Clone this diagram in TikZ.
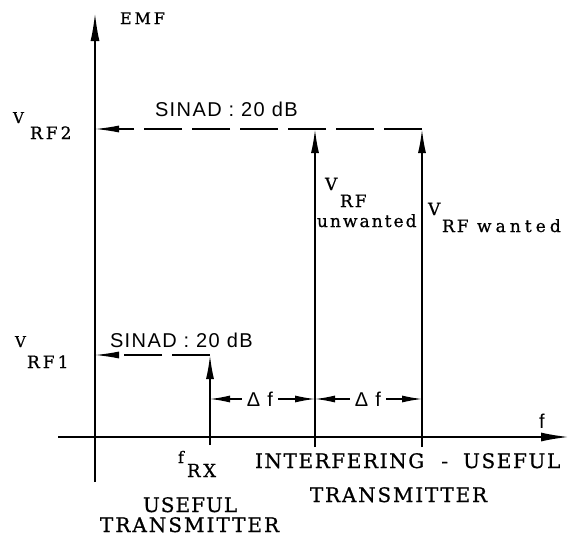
\documentclass[tikz,border=0pt]{standalone}
\usepackage{fontspec}
\setmainfont{DejaVu Serif}[FakeBold=0.8]
\setsansfont{Liberation Sans}
\usetikzlibrary{arrows.meta}
\newcommand{\LSp}[2]{{\addfontfeature{LetterSpace=#1}#2}}
\newcommand{\fsz}[1]{\fontsize{#1}{#1}\selectfont}
\begin{document}
\begin{tikzpicture}[x=1pt,y=-1pt,
  lbl/.style={inner sep=0pt, outer sep=0pt, anchor=base west},
  axisline/.style={line width=1.8pt, -{Latex[length=28pt,width=9pt]}},
  sig/.style={line width=1.6pt, -{Latex[length=24pt,width=8pt]}},
  lvl/.style={line width=1.2pt, dash pattern=on 38pt off 10pt, -{Latex[length=24pt,width=7pt]}},
  dfarr/.style={line width=1.2pt, -{Latex[length=20pt,width=7pt]}},
  sanslbl/.style={inner sep=0pt, outer sep=0pt, anchor=base west, font=\sffamily\fsz{20}}
]
\useasboundingbox (0,0) rectangle (574,538);
% key points
\coordinate (ytop) at (95,13);
\coordinate (ybot) at (95,482);
\coordinate (xl) at (58,437);
\coordinate (xr) at (569,437);
\coordinate (rxb) at (210,445);
\coordinate (rxt) at (210,355);
\coordinate (unb) at (315,447);
\coordinate (unt) at (315,129);
\coordinate (wab) at (422,447);
\coordinate (wat) at (422,129);
\coordinate (y2) at (95,129);
\coordinate (y1) at (95,355);
\coordinate (d1l) at (210,399);
\coordinate (d1r) at (315,399);
\coordinate (d2l) at (315,399);
\coordinate (d2r) at (422,399);
% axes
\draw[axisline] (ybot) -- (ytop);
\draw[axisline] (xl) -- (xr);
% signal lines
\draw[sig] (rxb) -- (rxt);
\draw[sig] (unb) -- (unt);
\draw[sig] (wab) -- (wat);
% SINAD levels
\draw[lvl] (wat) -- (y2);
\draw[lvl] (rxt) -- (y1);
% delta f
\node[font=\sffamily\fsz{20}, inner sep=5pt] (df1) at (260,399) {\LSp{8}{Δ f}};
\node[font=\sffamily\fsz{20}, inner sep=5pt] (df2) at (368,399) {\LSp{8}{Δ f}};
\draw[dfarr] (df1) -- (d1l);
\draw[dfarr] (df1) -- (d1r);
\draw[dfarr] (df2) -- (d2l);
\draw[dfarr] (df2) -- (d2r);
% labels
\node[lbl, font=\fsz{16}] (emf) at (120,24) {\LSp{18}{EMF}};
\node[lbl, font=\fsz{15}] (v2v) at (13,123) {V};
\node[lbl, font=\fsz{17}] (v2s) at (30,139) {\LSp{18}{RF2}};
\node[lbl, font=\fsz{15}] (v1v) at (15,347) {V};
\node[lbl, font=\fsz{17}] (v1s) at (27,368) {\LSp{18}{RF1}};
\node[sanslbl] (sinad2) at (155,116) {\LSp{7}{SINAD : 20 dB}};
\node[sanslbl] (sinad1) at (110,347) {\LSp{7}{SINAD : 20 dB}};
\node[lbl, font=\fsz{17}] (uvv) at (325,190) {V};
\node[lbl, font=\fsz{17}] (uvs) at (340,207) {\LSp{12}{RF}};
\node[lbl, font=\fsz{17}] (uvt) at (317,227) {\LSp{12}{unwanted}};
\node[lbl, font=\fsz{17}] (wvv) at (428,215) {V};
\node[lbl, font=\fsz{17}] (wvs) at (442,232) {\LSp{12}{RF}};
\node[lbl, font=\fsz{17}] (wvt) at (477,232) {\LSp{24}{wanted}};
\node[sanslbl] (faxis) at (539,428) {f};
\node[lbl, font=\fsz{16}] (frxf) at (178,463) {f};
\node[lbl, font=\fsz{18}] (frxs) at (187,477) {\LSp{15}{RX}};
\node[lbl, font=\fsz{20}] (use1) at (143,512) {\LSp{5}{USEFUL}};
\node[lbl, font=\fsz{20}] (tra1) at (100,532) {\LSp{10}{TRANSMITTER}};
\node[lbl, font=\fsz{20}] (intf) at (255,468) {\LSp{8}{INTERFERING}\hspace{17pt}-\hspace{15pt}\LSp{8}{USEFUL}};
\node[lbl, font=\fsz{20}] (tra2) at (310,502) {\LSp{9}{TRANSMITTER}};
\end{tikzpicture}
\end{document}
